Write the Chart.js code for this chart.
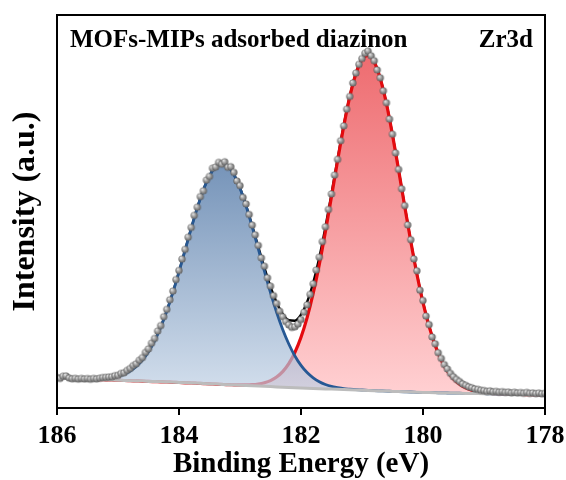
<!DOCTYPE html>
<html>
<head>
<meta charset="utf-8">
<script src="https://cdn.jsdelivr.net/npm/chart.js@4.4.1/dist/chart.umd.min.js"></script>
<style>
html,body{margin:0;padding:0;background:#fff;}
#c{display:block;}
</style>
</head>
<body>
<canvas id="c" width="566" height="480"></canvas>
<script>
// ---- Data (binding energy in eV, intensity in arbitrary units) ----
const xTicks = [186, 184, 182, 180, 178];
const chartTitle = "MOFs-MIPs adsorbed diazinon";
const orbitalLabel = "Zr3d";

const fitEnergy = [186.0,185.9,185.8,185.7,185.6,185.5,185.4,185.3,185.2,185.1,
185.0,184.9,184.8,184.7,184.6,184.5,184.4,184.3,184.2,184.1,
184.0,183.9,183.8,183.7,183.6,183.5,183.4,183.3,183.2,183.1,
183.0,182.9,182.8,182.7,182.6,182.5,182.4,182.3,182.2,182.1,
182.0,181.9,181.8,181.7,181.6,181.5,181.4,181.3,181.2,181.1,
181.0,180.9,180.8,180.7,180.6,180.5,180.4,180.3,180.2,180.1,
180.0,179.9,179.8,179.7,179.6,179.5,179.4,179.3,179.2,179.1,
179.0,178.9,178.8,178.7,178.6,178.5,178.4,178.3,178.2,178.1,
178.0];

const background = [30.0,29.8,29.6,29.3,29.1,28.9,28.7,28.4,28.2,28.0,
27.8,27.5,27.3,27.1,26.9,26.6,26.4,26.2,26.0,25.7,
25.5,25.2,25.0,24.7,24.4,24.1,23.9,23.6,23.3,23.0,
22.8,22.5,22.2,21.9,21.7,21.4,21.1,20.8,20.6,20.3,
20.0,19.8,19.6,19.3,19.1,18.9,18.7,18.4,18.2,18.0,
17.8,17.5,17.3,17.1,16.9,16.6,16.4,16.2,16.0,15.7,
15.5,15.4,15.3,15.1,15.0,14.9,14.8,14.6,14.5,14.4,
14.3,14.1,14.0,13.9,13.8,13.6,13.5,13.4,13.3,13.1,
13.0];

// Zr 3d3/2 component (blue)
const peakZr3d32 = [30.0,29.8,29.6,29.4,29.3,29.2,29.2,29.3,29.7,30.5,
31.8,33.8,37.0,41.6,47.9,56.3,67.2,80.8,97.0,115.6,
136.2,157.9,179.7,200.2,218.1,232.1,241.3,244.6,241.9,233.3,
219.7,201.9,181.2,159.1,136.8,115.3,95.7,78.5,64.0,52.0,
42.6,35.4,30.1,26.2,23.5,21.6,20.4,19.4,18.8,18.3,
18.0,17.6,17.3,17.1,16.9,16.6,16.4,16.2,16.0,15.7,
15.5,15.4,15.3,15.1,15.0,14.9,14.8,14.6,14.5,14.4,
14.3,14.1,14.0,13.9,13.8,13.6,13.5,13.4,13.3,13.1,
13.0];

// Zr 3d5/2 component (red)
const peakZr3d52 = [30.0,29.8,29.6,29.3,29.1,28.9,28.7,28.4,28.2,28.0,
27.8,27.5,27.3,27.1,26.9,26.6,26.4,26.2,26.0,25.7,
25.5,25.2,25.0,24.7,24.4,24.1,23.9,23.6,23.3,23.2,
23.1,23.1,23.3,24.0,25.3,27.4,31.0,36.4,44.4,55.6,
70.7,90.4,114.8,143.6,176.3,211.6,247.4,281.5,311.3,334.3,
348.5,352.5,345.9,329.4,304.5,273.1,238.0,201.7,166.4,133.8,
105.4,81.6,62.6,47.8,36.9,29.1,23.7,20.1,17.7,16.2,
15.3,14.6,14.3,14.0,13.8,13.6,13.5,13.4,13.3,13.1,
13.0];

// Fitted envelope (black)
const envelope = [30.0,29.8,29.6,29.4,29.3,29.2,29.2,29.3,29.7,30.5,
31.8,33.8,37.0,41.6,47.9,56.3,67.2,80.8,97.0,115.6,
136.2,157.9,179.7,200.2,218.1,232.1,241.3,244.6,241.9,233.5,
220.0,202.5,182.3,161.2,140.4,121.3,105.6,94.1,87.8,87.3,
93.3,106.0,125.3,150.5,180.7,214.3,249.1,282.5,311.9,334.6,
348.7,352.6,345.9,329.4,304.5,273.1,238.0,201.7,166.4,133.8,
105.4,81.6,62.6,47.8,36.9,29.1,23.7,20.1,17.7,16.2,
15.3,14.6,14.3,14.0,13.8,13.6,13.5,13.4,13.3,13.1,
13.0];

// Measured spectrum (grey spheres)
const rawEnergy = [186.00,185.95,185.90,185.85,185.80,185.75,185.70,185.65,185.60,185.55,
185.50,185.45,185.40,185.35,185.30,185.25,185.20,185.15,185.10,185.05,
185.00,184.95,184.90,184.85,184.80,184.75,184.70,184.65,184.60,184.55,
184.50,184.45,184.40,184.35,184.30,184.25,184.20,184.15,184.10,184.05,
184.00,183.95,183.90,183.85,183.80,183.75,183.70,183.65,183.60,183.55,
183.50,183.45,183.40,183.35,183.30,183.25,183.20,183.15,183.10,183.05,
183.00,182.95,182.90,182.85,182.80,182.75,182.70,182.65,182.60,182.55,
182.50,182.45,182.40,182.35,182.30,182.25,182.20,182.15,182.10,182.05,
182.00,181.95,181.90,181.85,181.80,181.75,181.70,181.65,181.60,181.55,
181.50,181.45,181.40,181.35,181.30,181.25,181.20,181.15,181.10,181.05,
181.00,180.95,180.90,180.85,180.80,180.75,180.70,180.65,180.60,180.55,
180.50,180.45,180.40,180.35,180.30,180.25,180.20,180.15,180.10,180.05,
180.00,179.95,179.90,179.85,179.80,179.75,179.70,179.65,179.60,179.55,
179.50,179.45,179.40,179.35,179.30,179.25,179.20,179.15,179.10,179.05,
179.00,178.95,178.90,178.85,178.80,178.75,178.70,178.65,178.60,178.55,
178.50,178.45,178.40,178.35,178.30,178.25,178.20,178.15,178.10,178.05,
178.00];

const rawIntensity = [30.5,29.6,31.8,32.0,29.9,29.2,29.6,28.9,29.5,29.0,
29.4,28.8,29.5,29.1,29.8,30.4,30.6,30.9,31.2,32.3,
32.6,34.5,35.2,37.6,39.5,42.4,44.2,47.8,50.4,55.6,
59.1,64.8,69.5,76.9,82.4,91.3,98.6,108.2,116.9,128.4,
137.5,148.9,158.6,170.8,180.5,192.6,200.8,211.4,217.2,227.9,
231.6,239.8,240.9,245.6,243.8,246.2,240.7,241.3,235.6,227.0,
222.4,210.6,204.1,193.5,182.9,173.2,162.6,150.1,141.8,130.2,
121.9,112.4,104.5,96.8,91.2,86.4,83.1,80.6,81.2,83.9,
88.4,95.7,103.1,113.6,124.2,137.9,150.8,166.4,181.2,198.5,
214.0,232.9,248.6,267.3,282.1,298.8,311.5,325.0,334.9,343.6,
349.4,354.8,356.9,352.2,347.3,338.1,330.2,317.2,305.3,288.9,
273.8,255.1,238.6,219.2,202.4,183.1,168.3,149.1,137.2,117.8,
107.5,91.9,83.4,71.0,64.2,55.3,49.6,43.4,39.0,34.6,
31.2,28.5,26.4,24.0,22.6,21.1,20.2,19.0,18.6,17.7,
17.4,16.6,17.1,16.2,16.5,15.8,16.3,15.6,15.9,15.1,
15.7,15.0,15.4,14.8,15.5,14.6,15.0,14.4,14.9,14.2,
14.6];

// ---- Build library tables ----
const pts = (xs, ys) => xs.map((x, i) => ({x: x, y: ys[i]}));

const SERIF = "'Liberation Serif', 'Times New Roman', serif";

function ballImage(r) {
  const s = Math.ceil(r * 2 + 2);
  const c = document.createElement('canvas');
  c.width = s; c.height = s;
  const g = c.getContext('2d');
  const cx = s / 2;
  const grd = g.createRadialGradient(cx - r * 0.35, cx - r * 0.4, r * 0.1, cx, cx, r);
  grd.addColorStop(0, '#e2e2e2');
  grd.addColorStop(0.45, '#a4a4a4');
  grd.addColorStop(1, '#5c5c5c');
  g.fillStyle = grd;
  g.beginPath(); g.arc(cx, cx, r, 0, Math.PI * 2); g.fill();
  return c;
}
const ball = ballImage(3.6);

function vGrad(context, topVal, botVal, c0, c1) {
  const chart = context.chart;
  if (!chart.chartArea || !chart.scales.y) return c1;
  const y = chart.scales.y;
  const g = chart.ctx.createLinearGradient(0, y.getPixelForValue(topVal), 0, y.getPixelForValue(botVal));
  g.addColorStop(0, c0);
  g.addColorStop(1, c1);
  return g;
}

const framePlugin = {
  id: 'frame',
  afterDatasetsDraw(chart) {
    const {ctx, chartArea: a} = chart;
    ctx.save();
    ctx.strokeStyle = '#000';
    ctx.lineWidth = 2;
    ctx.strokeRect(a.left, a.top, a.right - a.left, a.bottom - a.top);
    ctx.restore();
  },
  afterDraw(chart) {
    const {ctx, chartArea: a} = chart;
    ctx.save();
    ctx.fillStyle = '#000';
    ctx.font = "bold 25px " + SERIF;
    ctx.textBaseline = 'alphabetic';
    ctx.textAlign = 'left';
    ctx.fillText(chartTitle, a.left + 13, a.top + 32);
    ctx.textAlign = 'right';
    ctx.fillText(orbitalLabel, a.right - 12, a.top + 32);
    ctx.restore();
  }
};

new Chart(document.getElementById('c'), {
  type: 'line',
  data: {
    datasets: [
      {
        label: 'Raw',
        data: pts(rawEnergy, rawIntensity),
        showLine: false,
        pointStyle: ball,
        pointRadius: 3.6,
        order: 0
      },
      {
        label: 'Background',
        data: pts(fitEnergy, background),
        borderColor: 'rgb(188,188,188)',
        borderWidth: 3,
        pointRadius: 0,
        fill: false,
        tension: 0,
        order: 1
      },
      {
        label: 'Zr 3d3/2',
        data: pts(fitEnergy, peakZr3d32),
        borderColor: 'rgb(38,88,148)',
        borderWidth: 2.8,
        pointRadius: 0,
        cubicInterpolationMode: 'monotone',
        fill: {target: 1},
        backgroundColor: (ctx) => vGrad(ctx, Math.max(...peakZr3d32), Math.min(...background) + 5,
          'rgba(59,102,155,0.7)', 'rgba(191,208,228,0.7)'),
        order: 2
      },
      {
        label: 'Zr 3d5/2',
        data: pts(fitEnergy, peakZr3d52),
        borderColor: 'rgb(228,10,14)',
        borderWidth: 3.2,
        pointRadius: 0,
        cubicInterpolationMode: 'monotone',
        fill: {target: 1},
        backgroundColor: (ctx) => vGrad(ctx, Math.max(...peakZr3d52), Math.min(...background) + 5,
          'rgb(238,108,112)', 'rgb(255,207,209)'),
        order: 3
      },
      {
        label: 'Envelope',
        data: pts(fitEnergy, envelope),
        borderColor: '#000',
        borderWidth: 2.4,
        pointRadius: 0,
        cubicInterpolationMode: 'monotone',
        fill: false,
        order: 4
      }
    ]
  },
  options: {
    responsive: false,
    animation: false,
    devicePixelRatio: 1,
    layout: {padding: {left: 0, top: 15, right: 21, bottom: 0}},
    plugins: {legend: {display: false}, tooltip: {enabled: false}},
    scales: {
      x: {
        type: 'linear',
        position: 'bottom',
        reverse: true,
        min: 178,
        max: 186,
        afterBuildTicks: (s) => { s.ticks = xTicks.map(v => ({value: v})); },
        afterFit: (s) => { s.height = 72; s.paddingLeft = 0; s.paddingRight = 0; },
        ticks: {
          color: '#000',
          font: {family: SERIF, size: 26, weight: 'bold'},
          padding: 6,
          maxRotation: 0,
          autoSkip: false
        },
        grid: {
          display: true,
          drawOnChartArea: false,
          drawTicks: true,
          tickLength: 7,
          color: '#000',
          lineWidth: 2
        },
        border: {display: false},
        title: {
          display: true,
          text: 'Binding Energy (eV)',
          color: '#000',
          font: {family: SERIF, size: 29, weight: 'bold', lineHeight: 1.1},
          padding: {top: 0, bottom: 0}
        }
      },
      y: {
        type: 'linear',
        min: 0,
        max: 393,
        afterFit: (s) => { s.width = 57; },
        ticks: {display: false},
        grid: {display: false},
        border: {display: false},
        title: {
          display: true,
          text: 'Intensity (a.u.)',
          color: '#000',
          font: {family: SERIF, size: 32, weight: 'bold', lineHeight: 1.2},
          padding: {top: 7, bottom: 0}
        }
      }
    }
  },
  plugins: [framePlugin]
});
</script>
</body>
</html>
